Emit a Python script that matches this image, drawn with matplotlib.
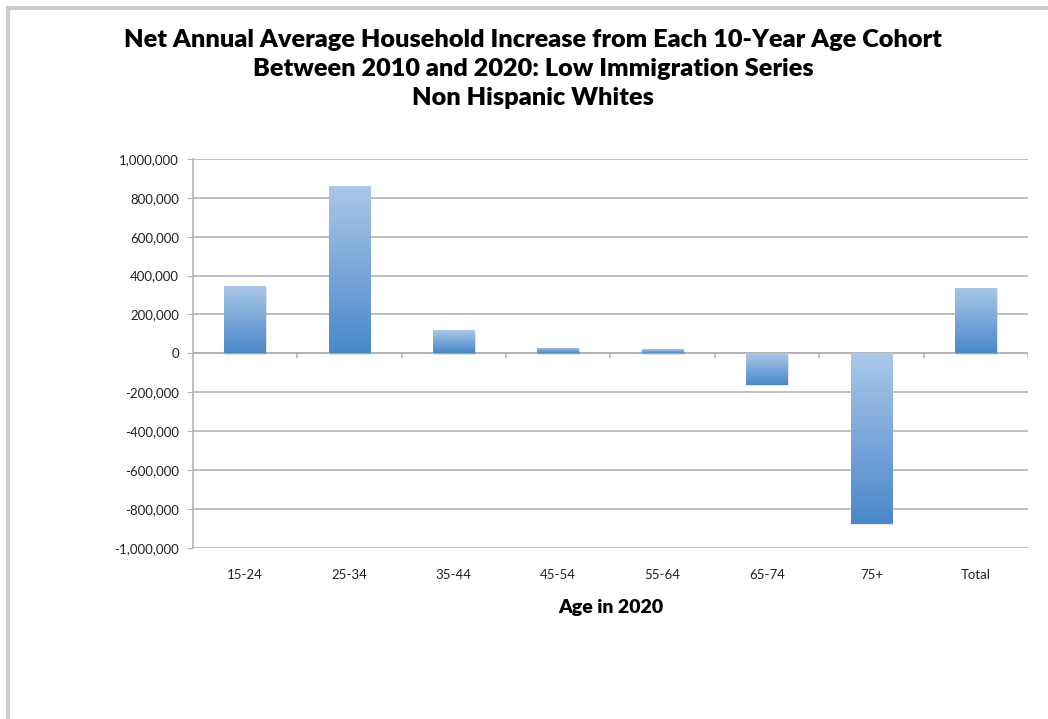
import matplotlib.pyplot as plt
import numpy as np
from matplotlib.colors import LinearSegmentedColormap
from matplotlib.lines import Line2D

plt.rcParams['font.family'] = ['Lato', 'DejaVu Sans']

# --- data ---
age_groups = ['15-24', '25-34', '35-44', '45-54', '55-64', '65-74', '75+', 'Total']
household_change = [345000, 861000, 118000, 28000, 20000, -161000, -876000, 335000]
y_ticks = [-1000000, -800000, -600000, -400000, -200000, 0,
           200000, 400000, 600000, 800000, 1000000]

title = ("Net Annual Average Household Increase from Each 10-Year Age Cohort\n"
         "Between 2010 and 2020: Low Immigration Series\n"
         "Non Hispanic Whites")

grid_color = '#b4b4b4'
bar_cmap = LinearSegmentedColormap.from_list('bar_grad', ['#4a88cb', '#abc7e8'])

fig = plt.figure(figsize=(10.48, 7.19), dpi=100)
ax = fig.add_axes([0.184, 0.238, 0.797, 0.541])

x = np.arange(len(age_groups))
bars = ax.bar(x, household_change, width=0.4, color='none', edgecolor='none', zorder=3)

# vertical gradient fill: light at the top, darker at the bottom
gradient = np.linspace(0, 1, 256).reshape(-1, 1)
for rect in bars:
    x0, w = rect.get_x(), rect.get_width()
    y0, h = rect.get_y(), rect.get_height()
    lo, hi = min(y0, y0 + h), max(y0, y0 + h)
    # soft drop shadow
    ax.add_patch(plt.Rectangle((x0 + 0.01, lo - 6000), w, hi - lo, color='#000000',
                               alpha=0.10, lw=0, zorder=2))
    im = ax.imshow(gradient, cmap=bar_cmap, aspect='auto', origin='lower',
                   extent=(x0, x0 + w, lo, hi), zorder=3, interpolation='bilinear')
    im.set_clip_path(rect)

ax.set_xlim(-0.5, len(age_groups) - 0.5)
ax.set_ylim(-1000000, 1000000)
ax.set_yticks(y_ticks)
ax.set_yticklabels([f'{v:,}' for v in y_ticks])
ax.yaxis.grid(True, color=grid_color, lw=1.2, zorder=0)

for side in ['top', 'right', 'bottom']:
    ax.spines[side].set_visible(False)
ax.spines['left'].set_color(grid_color)
ax.spines['left'].set_linewidth(1.2)
ax.tick_params(axis='y', length=4, color=grid_color, labelsize=9.5, pad=6,
               labelcolor='#222222')
ax.tick_params(axis='x', length=0, labelsize=9.5, pad=15, labelcolor='#222222')
ax.set_xticks(x)
ax.set_xticklabels(age_groups)

# category axis sits on the zero line, with tick marks between categories
ax.axhline(0, color=grid_color, lw=1.4, zorder=1)
ax.vlines(np.arange(len(age_groups) + 1) - 0.5, -25000, 0, color=grid_color, lw=1.2, zorder=1)

ax.set_xlabel('Age in 2020', fontsize=14, fontweight='heavy', labelpad=13)
fig.text(0.509, 0.960, title, ha='center', va='top', fontsize=18.2, fontweight='heavy',
         linespacing=1.4)

# outer chart frame
fig.add_artist(Line2D([0.0075, 1.0], [0.9895, 0.9895], color='#cccccc', lw=3))
fig.add_artist(Line2D([0.0075, 0.0075], [0.0, 0.9895], color='#cccccc', lw=3))

fig.savefig('out.png', dpi=100)
